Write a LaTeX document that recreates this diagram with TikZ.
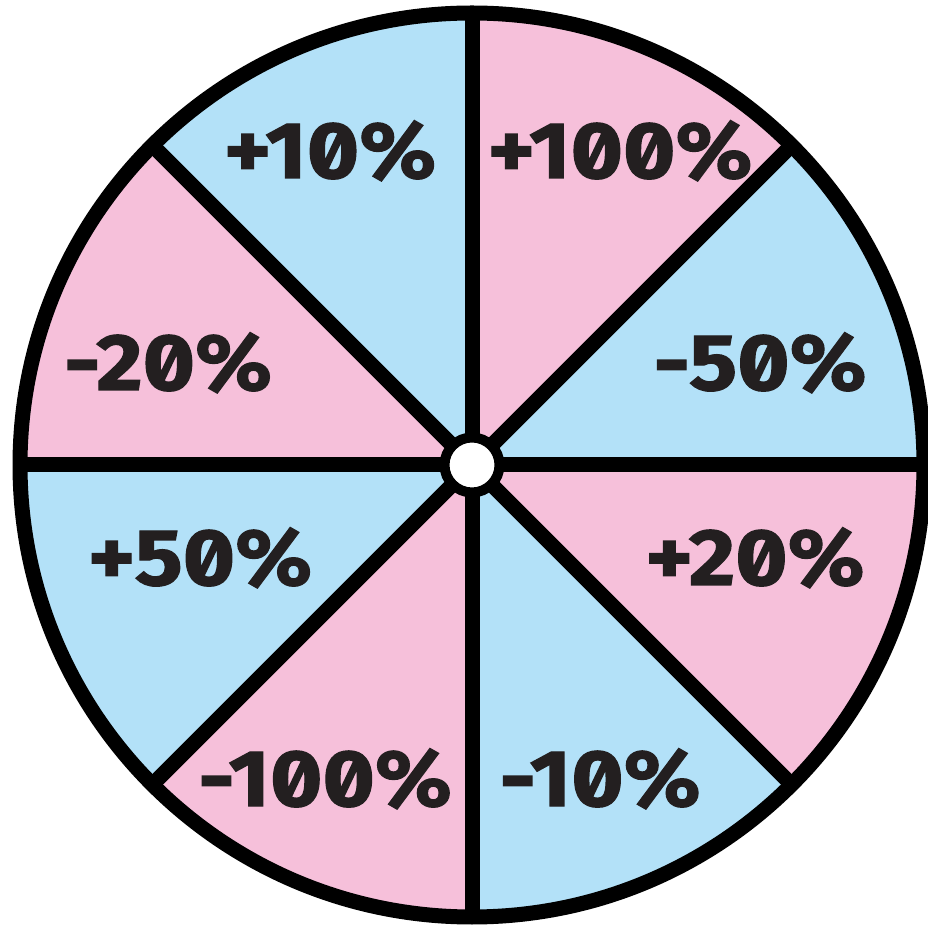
\documentclass[tikz,border=0pt]{standalone}
\usepackage{fontspec}
\setsansfont{Fira Sans}[Numbers=SlashedZero,BoldFeatures={FakeStretch=1.12,FakeBold=1.5}]
\usepackage{tikz}
\usetikzlibrary{positioning,calc}
\definecolor{sky}{HTML}{B3E1F8}
\definecolor{rose}{HTML}{F6C0DA}
\definecolor{ink}{HTML}{231F20}

\tikzset{
  rim/.style={draw=black,line width=15pt},
  spoke/.style={black,line width=15pt},
  hub/.style={circle,draw=black,fill=white,line width=10pt,minimum size=55pt,inner sep=0pt},
  pct/.style={anchor=base,text=ink,font=\sffamily\bfseries\fontsize{80}{90}\selectfont}
}

\begin{document}
\begin{tikzpicture}[x=1pt,y=1pt]
  \clip (0,0) rectangle (928,926);
  \coordinate (c) at (472,461);
  % sectors
  \foreach \a/\col in {0/sky,45/rose,90/sky,135/rose,180/sky,225/rose,270/sky,315/rose}{
    \fill[\col] (c) -- ++(\a:452pt) arc[start angle=\a,end angle=\a+45,radius=452pt] -- cycle;}
  % spokes and rim
  \foreach \a in {0,45,90,135}{
    \draw[spoke] ($(c)+(\a:452pt)$) -- ($(c)+(\a+180:452pt)$);}
  \draw[rim] (c) circle (452pt);
  \node[hub] (hub) at (c) {};
  % labels
  \foreach \x/\y/\n/\t in {330/748/ua/+10\%,620/748/ub/+100\%,760/536/ra/-50\%,168/536/la/-20\%,
    200/341/lb/+50\%,755/341/rb/+20\%,325/120/da/-100\%,600/120/db/-10\%}{
    \node[pct] (\n) at (\x,\y) {\t};}
\end{tikzpicture}
\end{document}
